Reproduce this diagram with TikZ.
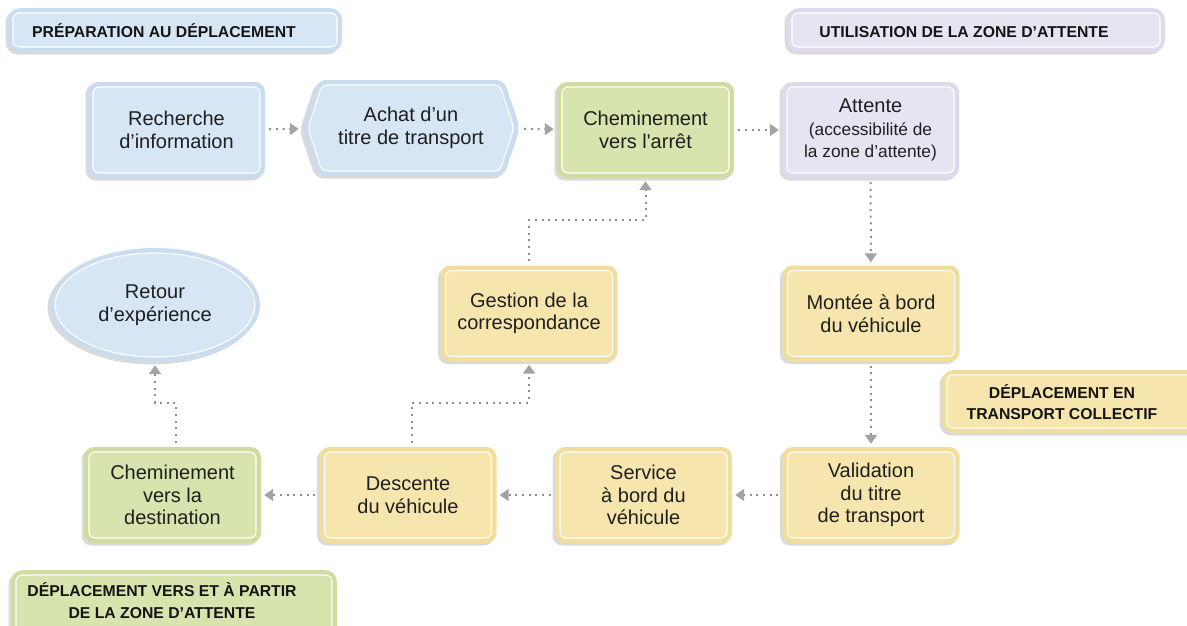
\documentclass[tikz,border=0pt]{standalone}
\usepackage{fontspec}
\setmainfont{Liberation Sans}
\usetikzlibrary{arrows.meta,shapes.geometric}
\definecolor{blueF}{HTML}{D6E6F5}
\definecolor{blueB}{HTML}{C9DCF0}
\definecolor{greenF}{HTML}{D8E4AE}
\definecolor{greenB}{HTML}{D0DC9F}
\definecolor{yelF}{HTML}{F6E6AE}
\definecolor{yelB}{HTML}{F2DE9C}
\definecolor{lavF}{HTML}{E7E4F1}
\definecolor{lavB}{HTML}{DEDAEB}
\definecolor{shadowC}{HTML}{DADADA}
\definecolor{dotC}{HTML}{8F8F8F}
\definecolor{tipC}{HTML}{A3A3A3}
\newcommand\bodyfont{\fontsize{20}{22.5}\selectfont}
\newcommand\subfont{\fontsize{17.3}{20}\selectfont}
\newcommand\hdrfont{\fontsize{15.75}{21.5}\selectfont\bfseries}
\tikzset{
  shadowed/.style={preaction={fill=shadowC, transform canvas={shift={(-2.5pt,-2.5pt)}}}},
  card/.style 2 args={rectangle, rounded corners=10pt, fill=#2, shadowed, inner sep=0pt,
     align=center, font=\bodyfont, text=black!88,
     path picture={\draw[white, line width=1.1pt, fill=#1, rounded corners=6pt]
        ([shift={(5pt,5pt)}]path picture bounding box.south west) rectangle
        ([shift={(-5pt,-5pt)}]path picture bounding box.north east);}},
  stepbox/.style 2 args={card={#1}{#2}, minimum width=177pt, minimum height=96pt},
  hdrbox/.style 2 args={card={#1}{#2}, rounded corners=12pt},
  hdrtext/.style={font=\hdrfont, align=center, inner sep=0pt, text=black!92},
  conn/.style={draw=dotC, line width=2pt, dash pattern=on 2pt off 4.7pt,
     shorten <=4pt, shorten >=3pt, -{Triangle[length=9pt,width=12pt,color=tipC]}},
}
\begin{document}
\begin{tikzpicture}[x=1pt,y=-1pt]
\useasboundingbox (0,0) rectangle (1187,625);
% headers
\node[hdrbox={blueF}{blueB}, minimum width=334pt, minimum height=44pt] (h1) at (175,30) {};
\node[hdrtext, anchor=base] (h1t) at (164,37) {PRÉPARATION AU DÉPLACEMENT};
\node[hdrbox={lavF}{lavB}, minimum width=378pt, minimum height=44pt] (h2) at (976,30) {};
\node[hdrtext, anchor=base] (h2t) at (964,37) {UTILISATION DE LA ZONE D’ATTENTE};
\node[hdrbox={yelF}{yelB}, minimum width=262pt, minimum height=63pt] (h3) at (1073,401.5) {};
\node[hdrtext] (h3t) at (1062,402) {DÉPLACEMENT EN\\TRANSPORT COLLECTIF};
\node[hdrbox={greenF}{greenB}, minimum width=326pt, minimum height=70pt] (h4) at (174,605) {};
\node[hdrtext] (h4t) at (162,600.5) {DÉPLACEMENT VERS ET À PARTIR\\DE LA ZONE D’ATTENTE};
% hexagon Achat
\fill[shadowC, shift={(-2.5pt,-2.5pt)}, rounded corners=8pt] (318,80) -- (504,80) -- (520,128) -- (504,176) -- (318,176) -- (302,128) -- cycle;
\fill[blueB, rounded corners=8pt] (318,80) -- (504,80) -- (520,128) -- (504,176) -- (318,176) -- (302,128) -- cycle;
\draw[white, line width=1.1pt, fill=blueF, rounded corners=5pt] (322,85) -- (500,85) -- (514,128) -- (500,171) -- (322,171) -- (308,128) -- cycle;
\node[font=\bodyfont, align=center, text=black!88, minimum width=218pt, minimum height=96pt, inner sep=0pt] (achat) at (411,128) {Achat d’un\\titre de transport};
% step boxes
\node[stepbox={blueF}{blueB}] (rech) at (176.5,130) {Recherche\\d’information};
\node[stepbox={greenF}{greenB}] (chemA) at (645.5,130) {Cheminement\\vers l\textquotesingle arrêt};
\node[stepbox={lavF}{lavB}] (attente) at (870.5,130) {Attente\\\subfont(accessibilité de\\\subfont la zone d’attente)};
\node[stepbox={yelF}{yelB}] (gestion) at (529,313.5) {Gestion de la\\correspondance};
\node[stepbox={yelF}{yelB}] (montee) at (871,313.5) {Montée à bord\\du véhicule};
\node[stepbox={greenF}{greenB}] (chemD) at (172.5,495) {Cheminement\\vers la\\destination};
\node[stepbox={yelF}{yelB}] (descente) at (408,495) {Descente\\du véhicule};
\node[stepbox={yelF}{yelB}] (service) at (643.5,495) {Service\\à bord du\\véhicule};
\node[stepbox={yelF}{yelB}] (valid) at (871,495) {Validation\\du titre\\de transport};
\node[ellipse, minimum width=210pt, minimum height=114pt, fill=blueB, shadowed, inner sep=0pt,
  align=center, font=\bodyfont, text=black!88,
  path picture={\draw[white, line width=1.1pt, fill=blueF] (path picture bounding box.center) ellipse [x radius=100pt, y radius=52pt];}]
  (retour) at (155,305) {Retour\\d’expérience};
% connectors
\draw[conn] (rech) -- (achat);
\draw[conn] (achat) -- (chemA);
\draw[conn] (chemA) -- (attente);
\draw[conn] (attente) -- (montee);
\draw[conn] (montee) -- (valid);
\draw[conn] (valid) -- (service);
\draw[conn] (service) -- (descente);
\draw[conn] (descente) -- (chemD);
\draw[conn] ([xshift=4pt]descente.north) -- ++(0,-44) -| (gestion.south);
\draw[conn] (gestion.north) -- ++(0,-45) -| (chemA.south);
\draw[conn] ([xshift=3pt]chemD.north) -- ++(0,-44) -| (retour.south);
\end{tikzpicture}
\end{document}
